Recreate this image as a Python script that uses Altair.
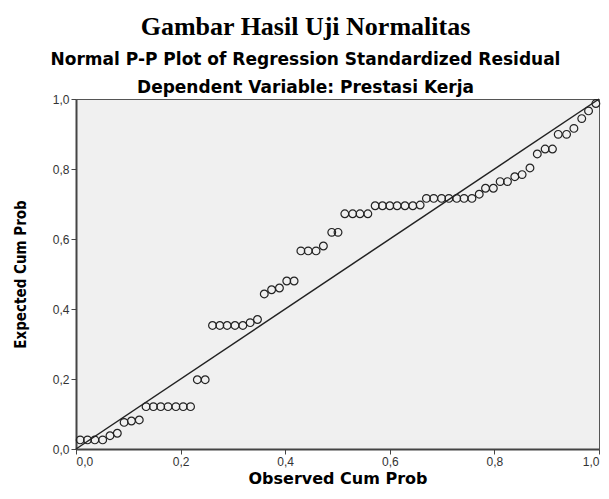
import altair as alt
import pandas as pd

# Observed cumulative probability (x) and expected cumulative probability (y)
observed = [
    0.008, 0.022, 0.036, 0.051, 0.065, 0.079, 0.092, 0.106, 0.121,
    0.134, 0.148, 0.162, 0.176, 0.191, 0.205, 0.219,
    0.232, 0.247,
    0.261, 0.275, 0.289, 0.304, 0.319, 0.333, 0.347,
    0.360, 0.374, 0.389, 0.403, 0.417,
    0.430, 0.444, 0.459, 0.473,
    0.489, 0.501,
    0.514, 0.529, 0.543, 0.558,
    0.572, 0.586, 0.600, 0.614, 0.629, 0.644, 0.658,
    0.670, 0.684, 0.699, 0.713, 0.728, 0.742, 0.757,
    0.771, 0.783, 0.798, 0.811, 0.825, 0.839, 0.853, 0.868,
    0.882, 0.897, 0.911, 0.922, 0.938, 0.952, 0.967, 0.980, 0.994,
]
expected = [
    0.026, 0.026, 0.026, 0.026, 0.038, 0.045, 0.076, 0.080, 0.083,
    0.121, 0.121, 0.121, 0.121, 0.121, 0.121, 0.121,
    0.198, 0.198,
    0.353, 0.353, 0.353, 0.353, 0.353, 0.361, 0.370,
    0.443, 0.455, 0.460, 0.480, 0.480,
    0.566, 0.566, 0.566, 0.580,
    0.619, 0.619,
    0.672, 0.672, 0.672, 0.672,
    0.695, 0.695, 0.695, 0.695, 0.695, 0.695, 0.697,
    0.716, 0.716, 0.716, 0.716, 0.716, 0.716, 0.716,
    0.728, 0.745, 0.745, 0.764, 0.764, 0.778, 0.784, 0.803,
    0.843, 0.857, 0.857, 0.899, 0.899, 0.916, 0.944, 0.966, 0.987,
]
ref_x = [0.0, 1.0]
ref_y = [0.0, 1.0]
ticks = [0.0, 0.2, 0.4, 0.6, 0.8, 1.0]

pts = pd.DataFrame({"obs": observed, "exp": expected})
ref = pd.DataFrame({"obs": ref_x, "exp": ref_y})

label_expr = "replace(format(datum.value, '.1f'), '.', ',')"

xenc = alt.X(
    "obs:Q",
    scale=alt.Scale(domain=[0, 1], nice=False, zero=False),
    axis=alt.Axis(
        values=ticks, labelExpr=label_expr, title="Observed Cum Prob",
        titleFont="DejaVu Sans", titleFontSize=16, titleFontWeight="bold",
        titleColor="#000", titlePadding=3,
        labelFont="Liberation Sans", labelFontSize=12, labelColor="#333",
        tickColor="#444", tickSize=5, domainColor="#444", domainWidth=2,
        grid=False, labelPadding=2,
    ),
)
yenc = alt.Y(
    "exp:Q",
    scale=alt.Scale(domain=[0, 1], nice=False, zero=False),
    axis=alt.Axis(
        values=ticks, labelExpr=label_expr, title="Expected Cum Prob",
        titleFont="Liberation Sans Narrow, DejaVu Sans Condensed, Liberation Sans",
        titleFontSize=15, titleFontWeight="bold", titleColor="#000",
        titlePadding=24,
        labelFont="Liberation Sans", labelFontSize=12, labelColor="#333",
        tickColor="#444", tickSize=5, domainColor="#444", domainWidth=2,
        grid=False, labelPadding=2,
    ),
)

line = alt.Chart(ref).mark_line(color="#222", strokeWidth=1.5).encode(x=xenc, y=yenc)
points = alt.Chart(pts).mark_point(
    shape="circle", filled=False, color="#222", strokeWidth=1.2, size=60, opacity=1
).encode(x="obs:Q", y="exp:Q")

chart = (
    alt.layer(line, points)
    .properties(
        width=523,
        height=350,
        background="white",
        autosize=alt.AutoSizeParams(type="none"),
        padding={"left": 68, "top": 91, "right": 2, "bottom": 42},
        title=alt.TitleParams(
            text="Gambar Hasil Uji Normalitas",
            subtitle=["Normal P-P Plot of Regression Standardized Residual",
                      "Dependent Variable: Prestasi Kerja"],
            font="Liberation Serif", fontSize=26, fontWeight="bold", color="#000",
            subtitleFont="DejaVu Sans", subtitleFontSize=17,
            subtitleFontWeight="bold", subtitleColor="#000",
            subtitleLineHeight=28, subtitlePadding=12,
            anchor="middle", dx=-32, offset=-3,
        ),
    )
    .configure_view(fill="#f0f0f0", stroke="#555", strokeWidth=1)
)

chart.save("out.html", embed_options={"renderer": "svg", "actions": False})
